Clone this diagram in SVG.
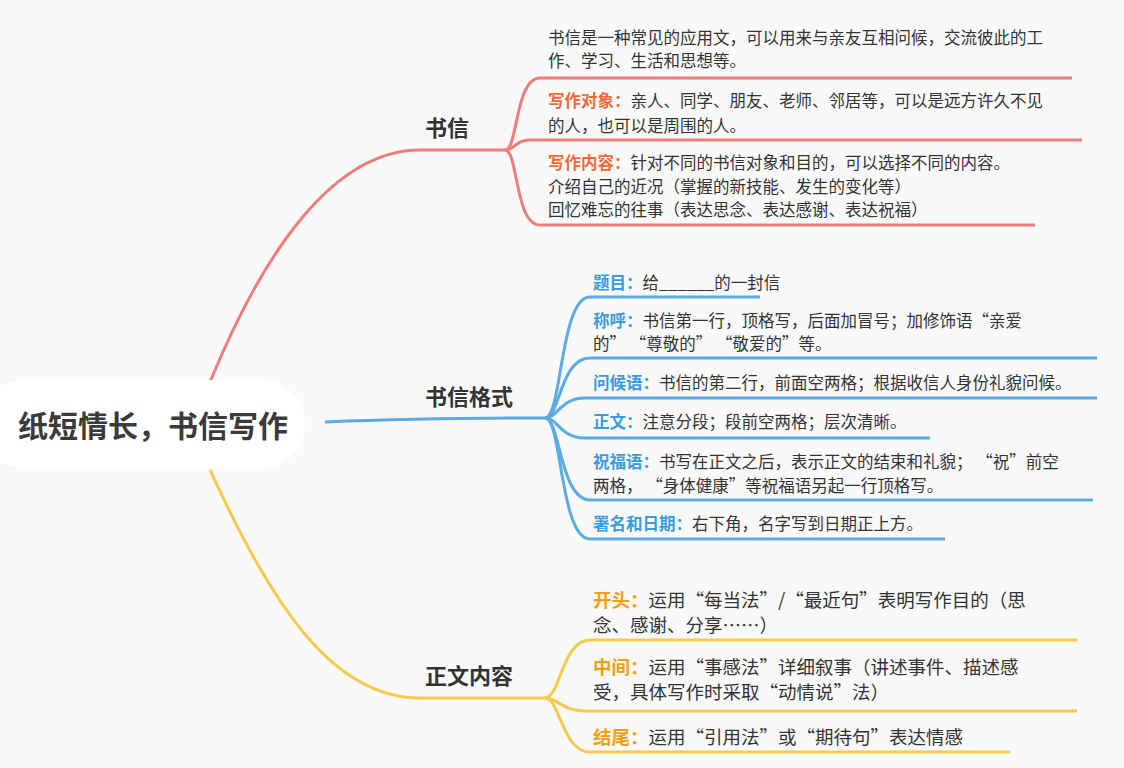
<svg xmlns="http://www.w3.org/2000/svg" width="1124" height="768" viewBox="0 0 1124 768">
<style>
text{font-family:"Noto Sans CJK SC","Noto Sans",sans-serif;fill:#333;font-size:16.5px}
.r{stroke:#f07c7c;fill:none;stroke-width:3}
.b{stroke:#5aace3;fill:none;stroke-width:3}
.y{stroke:#f9c94f;fill:none;stroke-width:3}
text.m{font-size:22px;font-weight:bold;fill:#333}
text.big{font-size:18.5px}
text.root{font-size:30px;font-weight:bold;fill:#3a3a3a}
.lr{fill:#f06a3a;font-weight:bold}
.lb{fill:#3a9be0;font-weight:bold}
.ly{fill:#f0a010;font-weight:bold}
</style>
<rect width="1124" height="768" fill="#f9f9f9"/>
<g id="connectors">
<path class="r" d="M210,382 C260,260 330,150 420,150 L505,150" stroke-width="4"/>
<path class="r" d="M505,150 C518,150 515,78 540,78 L1072,78"/>
<path class="r" d="M505,150 C515,150 515,140 530,140 L1082,140"/>
<path class="r" d="M505,150 C518,150 515,225 540,225 L1035,225"/>
<path class="b" d="M325,422 C400,419 460,418 545,418" stroke-width="4"/>
<path class="b" d="M545,418 C562,418 560,297 590,297 L760,297"/>
<path class="b" d="M545,418 C560,418 560,358 590,358 L1097,358"/>
<path class="b" d="M545,418 C558,418 560,398 585,398 L1097,398"/>
<path class="b" d="M545,418 C558,418 560,438 585,438 L930,438"/>
<path class="b" d="M545,418 C560,418 560,500 590,500 L1093,500"/>
<path class="b" d="M545,418 C562,418 560,539 590,539 L945,539"/>
<path class="y" d="M210,470 C270,600 330,698 420,698 L545,698" stroke-width="4"/>
<path class="y" d="M545,698 C560,698 562,640 590,640 L1077,640"/>
<path class="y" d="M545,698 C558,698 562,711 585,711 L1077,711"/>
<path class="y" d="M545,698 C560,698 562,752 590,752 L1010,752"/>
</g>
<g id="root">
<rect x="-20" y="380" width="325" height="88" rx="44" fill="#fff"/>
<text class="root" x="18" y="437">纸短情长，书信写作</text>
</g>
<g id="n1"><text class="m" x="425" y="136">书信</text></g>
<g id="n1a"><text x="548" y="44">书信是一种常见的应用文，可以用来与亲友互相问候，交流彼此的工</text><text x="548" y="67">作、学习、生活和思想等。</text></g>
<g id="n1b"><text x="548" y="107"><tspan class="lr">写作对象：</tspan>亲人、同学、朋友、老师、邻居等，可以是远方许久不见</text><text x="548" y="132">的人，也可以是周围的人。</text></g>
<g id="n1c"><text x="548" y="169"><tspan class="lr">写作内容：</tspan>针对不同的书信对象和目的，可以选择不同的内容。</text><text x="548" y="193">介绍自己的近况（掌握的新技能、发生的变化等）</text><text x="548" y="216">回忆难忘的往事（表达思念、表达感谢、表达祝福）</text></g>
<g id="n2"><text class="m" x="425" y="405">书信格式</text></g>
<g id="n2a"><text x="593" y="289"><tspan class="lb">题目：</tspan>给______的一封信</text></g>
<g id="n2b"><text x="593" y="327"><tspan class="lb">称呼：</tspan>书信第一行，顶格写，后面加冒号；加修饰语“亲爱</text><text x="593" y="350">的” “尊敬的” “敬爱的”等。</text></g>
<g id="n2c"><text x="593" y="389"><tspan class="lb">问候语：</tspan>书信的第二行，前面空两格；根据收信人身份礼貌问候。</text></g>
<g id="n2d"><text x="593" y="428"><tspan class="lb">正文：</tspan>注意分段；段前空两格；层次清晰。</text></g>
<g id="n2e"><text x="593" y="468"><tspan class="lb">祝福语：</tspan>书写在正文之后，表示正文的结束和礼貌； “祝”前空</text><text x="593" y="492">两格， “身体健康”等祝福语另起一行顶格写。</text></g>
<g id="n2f"><text x="593" y="530"><tspan class="lb">署名和日期：</tspan>右下角，名字写到日期正上方。</text></g>
<g id="n3"><text class="m" x="425" y="684">正文内容</text></g>
<g id="n3a"><text class="big" x="593" y="607"><tspan class="ly">开头：</tspan>运用“每当法”/“最近句”表明写作目的（思</text><text class="big" x="593" y="632">念、感谢、分享……）</text></g>
<g id="n3b"><text class="big" x="593" y="674"><tspan class="ly">中间：</tspan>运用“事感法”详细叙事（讲述事件、描述感</text><text class="big" x="593" y="699">受，具体写作时采取“动情说”法）</text></g>
<g id="n3c"><text class="big" x="593" y="744"><tspan class="ly">结尾：</tspan>运用“引用法”或“期待句”表达情感</text></g>
</svg>
